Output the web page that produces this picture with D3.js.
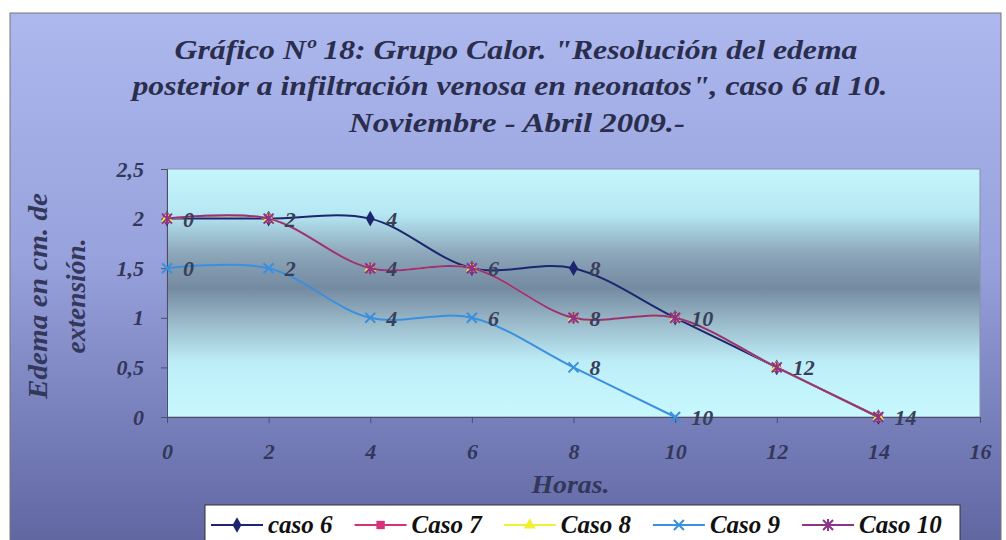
<!DOCTYPE html>
<html>
<head>
<meta charset="utf-8">
<script src="https://cdn.jsdelivr.net/npm/d3@7"></script>
<style>
  body { margin: 0; background: #fff; }
  text { font-family: "Liberation Serif", "DejaVu Serif", serif; font-weight: bold; font-style: italic; }
</style>
</head>
<body>
<div id="chart"></div>
<script>
//data (hours vs edema in cm)
var horas = [0, 2, 4, 6, 8, 10, 12, 14];
var caso6 = [2, 2, 2, 1.5, 1.5, 1, 0.5, 0];
var caso7 = [2, 2, 1.5, 1.5, 1, 1, 0.5, 0];
var caso8 = [2, 2, 1.5, 1.5, 1, 1, 0.5, 0];
var caso9 = [1.5, 1.5, 1, 1, 0.5, 0];
var caso10 = [2, 2, 1.5, 1.5, 1, 1, 0.5, 0];
var seriesNames = ["caso 6", "Caso 7", "Caso 8", "Caso 9", "Caso 10"];
var xTicks = [0, 2, 4, 6, 8, 10, 12, 14, 16];
var yTicks = [0, 0.5, 1, 1.5, 2, 2.5];
var titleLines = [
  "Gráfico Nº 18: Grupo Calor. \"Resolución del edema",
  "posterior a  infiltración venosa en neonatos\", caso 6 al 10.",
  "Noviembre - Abril 2009.-"
];

(function(){

  var width = 1006;
  var height = 540;

  var svg = d3.select("#chart")
    .append("svg")
    .attr("width", width)
    .attr("height", height)

  //gradients for chart area and plot area
  var defs = svg.append("defs")
  var bg = defs.append("linearGradient").attr("id", "bgGrad")
    .attr("x1", 0).attr("y1", 0).attr("x2", 0).attr("y2", 1)
  bg.append("stop").attr("offset", "0%").attr("stop-color", "#acb8ee")
  bg.append("stop").attr("offset", "45%").attr("stop-color", "#98a2dc")
  bg.append("stop").attr("offset", "75%").attr("stop-color", "#7880bc")
  bg.append("stop").attr("offset", "100%").attr("stop-color", "#5e649e")

  var pg = defs.append("linearGradient").attr("id", "plotGrad")
    .attr("x1", 0).attr("y1", 0).attr("x2", 0).attr("y2", 1)
  pg.append("stop").attr("offset", "0%").attr("stop-color", "#c6f6fc")
  pg.append("stop").attr("offset", "18%").attr("stop-color", "#b6e8f4")
  pg.append("stop").attr("offset", "34%").attr("stop-color", "#8ca6ba")
  pg.append("stop").attr("offset", "48%").attr("stop-color", "#748aa0")
  pg.append("stop").attr("offset", "62%").attr("stop-color", "#9abaca")
  pg.append("stop").attr("offset", "78%").attr("stop-color", "#bdeef8")
  pg.append("stop").attr("offset", "100%").attr("stop-color", "#c8f8fe")

  svg.append("rect")
    .attr("x", 10).attr("y", 13)
    .attr("width", 991).attr("height", 540)
    .attr("fill", "url(#bgGrad)")
    .attr("stroke", "#777")

  //title, stretched to the widths seen in the picture
  var titleWidths = [683, 755, 336]
  svg.append("g").selectAll("text")
    .data(titleLines)
    .enter().append("text")
    .attr("x", function(d, i){ return [516, 510, 517][i] })
    .attr("y", function(d, i){ return [59, 95, 132][i] })
    .attr("text-anchor", "middle")
    .attr("font-size", 28)
    .attr("textLength", function(d, i){ return titleWidths[i] })
    .attr("lengthAdjust", "spacingAndGlyphs")
    .attr("fill", "#2a2d4c")
    .text(function(d){ return d })

  var x = d3.scaleLinear().domain([0, 16]).range([167, 980])
  var y = d3.scaleLinear().domain([0, 2.5]).range([417, 169])

  //plot area
  svg.append("rect")
    .attr("x", x(0)).attr("y", y(2.5))
    .attr("width", x(16) - x(0)).attr("height", y(0) - y(2.5))
    .attr("fill", "url(#plotGrad)")
    .attr("stroke", "#8a8fa8")

  var comma = function(d){ return String(d).replace(".", ",") }

  svg.append("g")
    .attr("transform", "translate(" + x(0) + ",0)")
    .call(d3.axisLeft(y).tickValues(yTicks).tickFormat(comma).tickSize(6).tickPadding(17))
  svg.append("g")
    .attr("transform", "translate(0," + y(0) + ")")
    .call(d3.axisBottom(x).tickValues(xTicks).tickFormat(comma).tickSize(6).tickPadding(20))

  svg.selectAll(".tick text")
    .attr("font-size", 22)
    .attr("fill", "#33375a")
  svg.selectAll(".domain, .tick line").attr("stroke", "#4a4e6a")

  //axis titles
  svg.append("text")
    .attr("x", (x(0) + x(16)) / 2 - 3).attr("y", 493)
    .attr("text-anchor", "middle")
    .attr("font-size", 25)
    .attr("textLength", 78)
    .attr("lengthAdjust", "spacingAndGlyphs")
    .attr("fill", "#33375a")
    .text("Horas.")

  var yt = svg.append("g")
    .attr("transform", "translate(0,296) rotate(-90)")
  yt.append("text")
    .attr("x", 0).attr("y", 47)
    .attr("text-anchor", "middle")
    .attr("font-size", 28)
    .attr("textLength", 206)
    .attr("lengthAdjust", "spacingAndGlyphs")
    .attr("fill", "#33375a")
    .text("Edema en cm. de")
  yt.append("text")
    .attr("x", 0).attr("y", 85)
    .attr("text-anchor", "middle")
    .attr("font-size", 28)
    .attr("textLength", 115)
    .attr("lengthAdjust", "spacingAndGlyphs")
    .attr("fill", "#33375a")
    .text("extensión.")

  //series
  var series = [
    { name: seriesNames[0], values: caso6, color: "#1c2670", marker: "diamond" },
    { name: seriesNames[1], values: caso7, color: "#d8307c", marker: "square" },
    { name: seriesNames[2], values: caso8, color: "#f2f030", marker: "triangle" },
    { name: seriesNames[3], values: caso9, color: "#3a90de", marker: "cross" },
    { name: seriesNames[4], values: caso10, color: "#8c3488", marker: "star" }
  ]
  series.forEach(function(s){
    s.points = s.values.map(function(v, i){ return { h: horas[i], v: v } })
  })

  var line = d3.line()
    .x(function(d){ return x(d.h) })
    .y(function(d){ return y(d.v) })
    .curve(d3.curveCatmullRom.alpha(0.5))

  function drawMarker(g, type, color){
    if (type == "diamond") {
      g.append("path").attr("d", d3.symbol(d3.symbolDiamond, 70)()).attr("fill", color)
    } else if (type == "square") {
      g.append("path").attr("d", d3.symbol(d3.symbolSquare, 70)()).attr("fill", color)
    } else if (type == "triangle") {
      g.append("path").attr("d", d3.symbol(d3.symbolTriangle, 60)()).attr("fill", color)
    } else if (type == "cross") {
      g.append("path").attr("d", "M-5,-5L5,5M-5,5L5,-5").attr("stroke", color).attr("stroke-width", 2)
    } else {
      g.append("path").attr("d", "M-5,-5L5,5M-5,5L5,-5M0,-6L0,6").attr("stroke", color).attr("stroke-width", 2)
    }
  }

  var seriesG = svg.append("g").selectAll("g")
    .data(series)
    .enter().append("g")

  seriesG.append("path")
    .attr("d", function(d){ return line(d.points) })
    .attr("fill", "none")
    .attr("stroke", function(d){ return d.color })
    .attr("stroke-width", 2)

  seriesG.each(function(s){
    d3.select(this).selectAll(".mk")
      .data(s.points)
      .enter().append("g")
      .attr("class", "mk")
      .attr("transform", function(d){ return "translate(" + x(d.h) + "," + y(d.v) + ")" })
      .each(function(){ drawMarker(d3.select(this), s.marker, s.color) })
  })

  //data labels (hour value), one per distinct point
  var seen = {}
  var labels = []
  series.forEach(function(s){
    s.points.forEach(function(p){
      var k = p.h + "_" + p.v
      if (!seen[k]) { seen[k] = true; labels.push(p) }
    })
  })
  svg.append("g").selectAll("text")
    .data(labels)
    .enter().append("text")
    .attr("x", function(d){ return x(d.h) + 16 })
    .attr("y", function(d){ return y(d.v) + 8 })
    .attr("font-size", 22)
    .attr("fill", "#3a3f58")
    .text(function(d){ return d.h })

  //legend
  svg.append("rect")
    .attr("x", 205).attr("y", 505)
    .attr("width", 755).attr("height", 50)
    .attr("fill", "#fff")
    .attr("stroke", "#333")

  var lx = 211
  series.forEach(function(s){
    var g = svg.append("g")
    g.append("line")
      .attr("x1", lx).attr("x2", lx + 52)
      .attr("y1", 525).attr("y2", 525)
      .attr("stroke", s.color).attr("stroke-width", 2)
    var m = g.append("g").attr("transform", "translate(" + (lx + 26) + ",525)")
    drawMarker(m, s.marker, s.color)
    var t = g.append("text")
      .attr("x", lx + 57).attr("y", 533)
      .attr("font-size", 25)
      .attr("fill", "#111")
      .text(s.name)
    lx = lx + 57 + t.node().getComputedTextLength() + 22
  })

})();
</script>
</body>
</html>
